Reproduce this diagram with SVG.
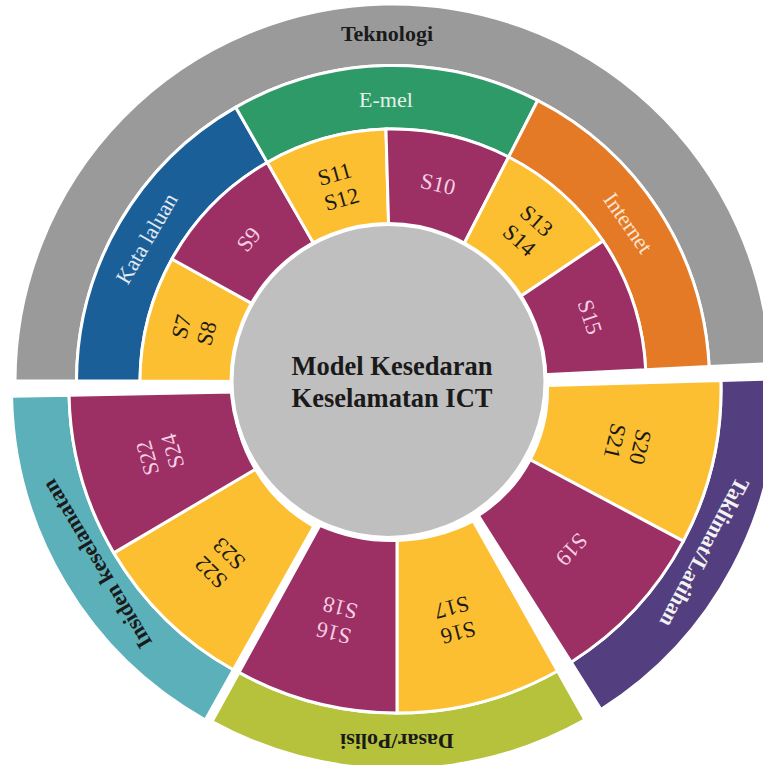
<svg xmlns="http://www.w3.org/2000/svg" width="763" height="765" viewBox="0 0 763 765">
<style>
.seg{stroke:#fff;stroke-width:3;stroke-linejoin:miter}
.t{font-family:"Liberation Serif","Times New Roman",serif;text-anchor:middle}
.s{font-size:22.5px}
.b{font-weight:bold;font-size:22px}
.n{font-size:22px}
.k{fill:#1a1a1a}
.p{fill:#f5cfe4}
.w{fill:#f2f2f2}
.yel{fill:#fcbf31}
.mar{fill:#9c2f63}
</style>
<rect width="763" height="765" fill="#fff"/>

<!-- Teknologi group -->
<g id="teknologi">
<path class="seg" fill="#9a9a9a" d="M 15.00 380.68 A 378 378 0 0 1 770.55 363.53 L 709.12 366.54 A 316.5 316.5 0 0 0 76.50 380.90 Z"/>
<text class="t b k" x="387" y="41">Teknologi</text>
</g>
<g id="kata-laluan">
<path class="seg" fill="#1b5f99" d="M 76.50 380.90 A 316.5 316.5 0 0 1 235.71 107.35 L 267.27 162.45 A 253 253 0 0 0 140.00 381.12 Z"/>
<text class="t n" fill="#e2e9f2" transform="translate(146.7 238.6) rotate(-59.8)" y="7.3">Kata laluan</text>
</g>
<g id="e-mel">
<path class="seg" fill="#2e9a68" d="M 235.71 107.35 A 316.5 316.5 0 0 1 537.66 100.50 L 508.63 156.98 A 253 253 0 0 0 267.27 162.45 Z"/>
<text class="t n" fill="#e4f2ea" x="386" y="107">E-mel</text>
</g>
<g id="internet">
<path class="seg" fill="#e57a26" d="M 537.66 100.50 A 316.5 316.5 0 0 1 709.12 366.54 L 645.70 369.64 A 253 253 0 0 0 508.63 156.98 Z"/>
<text class="t n" fill="#fde6d2" transform="translate(628 223) rotate(55)" y="7.3">Internet</text>
</g>
<g id="s7-s8">
<path class="seg yel" d="M 140.00 381.12 A 253 253 0 0 1 171.94 258.97 L 266.30 311.49 A 145 145 0 0 0 248.00 381.49 Z"/>
<text class="t s k" transform="translate(194 330) rotate(-75.3)"><tspan x="0" y="-5.5">S7</tspan><tspan x="0" y="20.5">S8</tspan></text>
</g>
<g id="s9">
<path class="seg mar" d="M 171.94 258.97 A 253 253 0 0 1 267.27 162.45 L 320.94 256.17 A 145 145 0 0 0 266.30 311.49 Z"/>
<text class="t s p" transform="translate(248.6 239.4) rotate(-50)" y="7.5">S9</text>
</g>
<g id="s11-s12">
<path class="seg yel" d="M 267.27 162.45 A 253 253 0 0 1 385.94 129.10 L 388.95 237.06 A 145 145 0 0 0 320.94 256.17 Z"/>
<text class="t s k" transform="translate(338.1 186.6) rotate(-15.7)"><tspan x="0" y="-5.5">S11</tspan><tspan x="0" y="20.5">S12</tspan></text>
</g>
<g id="s10">
<path class="seg mar" d="M 385.94 129.10 A 253 253 0 0 1 508.63 156.98 L 459.27 253.03 A 145 145 0 0 0 388.95 237.06 Z"/>
<text class="t s p" transform="translate(438 184) rotate(12.8)" y="7.5">S10</text>
</g>
<g id="s13-s14">
<path class="seg yel" d="M 508.63 156.98 A 253 253 0 0 1 603.01 240.91 L 513.36 301.14 A 145 145 0 0 0 459.27 253.03 Z"/>
<text class="t s k" transform="translate(528 230.4) rotate(41.6)"><tspan x="0" y="-5.5">S13</tspan><tspan x="0" y="20.5">S14</tspan></text>
</g>
<g id="s15">
<path class="seg mar" d="M 603.01 240.91 A 253 253 0 0 1 645.70 369.64 L 537.83 374.92 A 145 145 0 0 0 513.36 301.14 Z"/>
<text class="t s p" transform="translate(590 317) rotate(71.6)" y="7.5">S15</text>
</g>

<!-- Taklimat/Latihan group -->
<g id="taklimat-latihan">
<path class="seg" fill="#533f80" d="M 776.83 378.79 A 378 378 0 0 1 600.98 709.51 L 571.06 662.17 A 322 322 0 0 0 720.86 380.45 Z"/>
<text class="t b w" transform="translate(704.5 552.4) rotate(118)" y="7.3">Taklimat/Latihan</text>
</g>
<g id="s20-s21">
<path class="seg yel" d="M 720.86 380.45 A 322 322 0 0 1 683.31 541.17 L 530.12 459.72 A 148.5 148.5 0 0 0 547.43 385.59 Z"/>
<text class="t s k" transform="translate(627.7 444.1) rotate(103.3)"><tspan x="0" y="-5.5">S20</tspan><tspan x="0" y="20.5">S21</tspan></text>
</g>
<g id="s19">
<path class="seg mar" d="M 683.31 541.17 A 322 322 0 0 1 571.06 662.17 L 478.35 515.52 A 148.5 148.5 0 0 0 530.12 459.72 Z"/>
<text class="t s p" transform="translate(571.7 549.4) rotate(132.7)" y="7.5">S19</text>
</g>

<!-- Dasar/Polisi group -->
<g id="dasar-polisi">
<path class="seg" fill="#b6c23b" d="M 584.92 719.87 A 384 384 0 0 1 212.01 721.50 L 238.99 672.43 A 328 328 0 0 0 557.52 671.04 Z"/>
<text class="t b k" transform="translate(397 741) rotate(180)" y="7.3">Dasar/Polisi</text>
</g>
<g id="s16-s17">
<path class="seg yel" d="M 557.52 671.04 A 328 328 0 0 1 397 713 L 397 540.43 A 178.5 178.5 0 0 0 473.27 520.92 Z"/>
<text class="t s k" transform="translate(455 620) rotate(165.4)"><tspan x="0" y="-5.5">S16</tspan><tspan x="0" y="20.5">S17</tspan></text>
</g>
<g id="s16-s18">
<path class="seg mar" d="M 397 713 A 328 328 0 0 1 238.99 672.43 L 319.88 525.28 A 178.5 178.5 0 0 0 397 540.43 Z"/>
<text class="t s p" transform="translate(337 620.4) rotate(194.4)"><tspan x="0" y="-5.5">S16</tspan><tspan x="0" y="20.5">S18</tspan></text>
</g>

<!-- Insiden keselamatan group -->
<g id="insiden-keselamatan">
<path class="seg" fill="#5bb0b9" d="M 205.28 719.95 A 379.5 379.5 0 0 1 11.57 396.29 L 69.06 395.18 A 322 322 0 0 0 233.42 669.81 Z"/>
<text class="t b k" transform="translate(97 564) rotate(239.1)" y="7.3">Insiden keselamatan</text>
</g>
<g id="s22-s23">
<path class="seg yel" d="M 233.42 669.81 A 322 322 0 0 1 113.84 552.91 L 255.43 469.17 A 157.5 157.5 0 0 0 313.92 526.35 Z"/>
<text class="t s k" transform="translate(220 563) rotate(224.3)"><tspan x="0" y="-5.5">S22</tspan><tspan x="0" y="20.5">S23</tspan></text>
</g>
<g id="s22-s24">
<path class="seg mar" d="M 113.84 552.91 A 322 322 0 0 1 69.06 395.18 L 233.53 392.02 A 157.5 157.5 0 0 0 255.43 469.17 Z"/>
<text class="t s p" transform="translate(160.1 454.5) rotate(254.2)"><tspan x="0" y="-5.5">S22</tspan><tspan x="0" y="20.5">S24</tspan></text>
</g>

<!-- centre -->
<g id="centre">
<circle cx="388.5" cy="381" r="157" fill="#bfbfbf" stroke="#fff" stroke-width="4"/>
<text class="t k" style="font-weight:bold;font-size:26.5px" x="392" y="375">Model Kesedaran</text>
<text class="t k" style="font-weight:bold;font-size:26.5px" x="392" y="407">Keselamatan ICT</text>
</g>

<g id="connectors"/>
</svg>
